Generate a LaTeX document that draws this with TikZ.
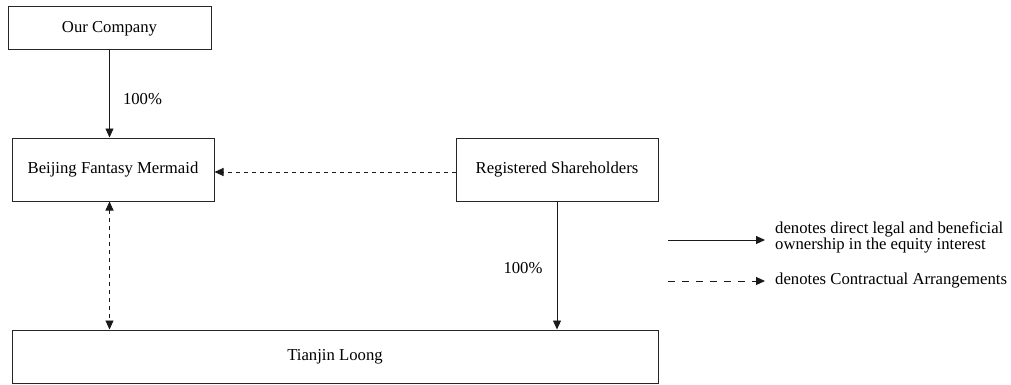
\documentclass[tikz,border=0pt]{standalone}
\usepackage{fontspec}
\setmainfont{Liberation Serif}
\usetikzlibrary{arrows.meta}
\begin{document}
\begin{tikzpicture}[x=1pt,y=-1pt,
  box/.style={draw=black!85,line width=1pt,inner sep=0pt,anchor=center},
  lbl/.style={inner sep=0pt,font=\fontsize{16.7}{18}\selectfont},
  tip/.style={-{Triangle[length=9pt,width=8pt]}},
  conn/.style={line width=0.9pt,draw=black!90},
  dsh/.style={dash pattern=on 4pt off 4pt},
  ldsh/.style={dash pattern=on 7pt off 7pt}]
\useasboundingbox (0,0) rectangle (1011,385);
\node[box,minimum width=203pt,minimum height=43pt] (oc) at (109.5,28.5) {};
\node[lbl] at (oc) {Our Company};
\node[box,minimum width=202pt,minimum height=63pt] (bfm) at (113,169.5) {};
\node[lbl] at (bfm) {Beijing Fantasy Mermaid};
\node[box,minimum width=202pt,minimum height=63pt] (rs) at (557,169.5) {};
\node[lbl] at (rs) {Registered Shareholders};
\node[box,minimum width=646pt,minimum height=53pt] (tl) at (335,356.5) {};
\node[lbl] at (tl) {Tianjin Loong};
\coordinate (a1) at (109.5,0);
\draw[conn,tip] (oc.south -| a1) -- (bfm.north -| a1);
\node[lbl] (p1) at (142.5,99) {100\%};
\draw[conn,dsh,tip] ([yshift=-2.5pt]rs.west) -- ([yshift=-2.5pt]bfm.east);
\draw[conn,dsh,{Triangle[length=9pt,width=8pt]}-{Triangle[length=9pt,width=8pt]}] (bfm.south -| a1) -- (tl.north -| a1);
\draw[conn,tip] (rs.south) -- (rs.south |- tl.north);
\node[lbl] (p2) at (523,268) {100\%};
\coordinate (l1a) at (668,240);
\coordinate (l1b) at (765,240);
\draw[conn,tip] (l1a) -- (l1b);
\node[lbl,anchor=west,align=left,font=\fontsize{16.7}{16}\selectfont] (t1) at (775,237) {denotes direct legal and beneficial\\ownership in the equity interest};
\coordinate (l2a) at (668,281);
\coordinate (l2b) at (765,281);
\draw[conn,ldsh,tip] (l2a) -- (l2b);
\node[lbl,anchor=west] (t2) at (775,281) {denotes Contractual Arrangements};
\end{tikzpicture}
\end{document}
